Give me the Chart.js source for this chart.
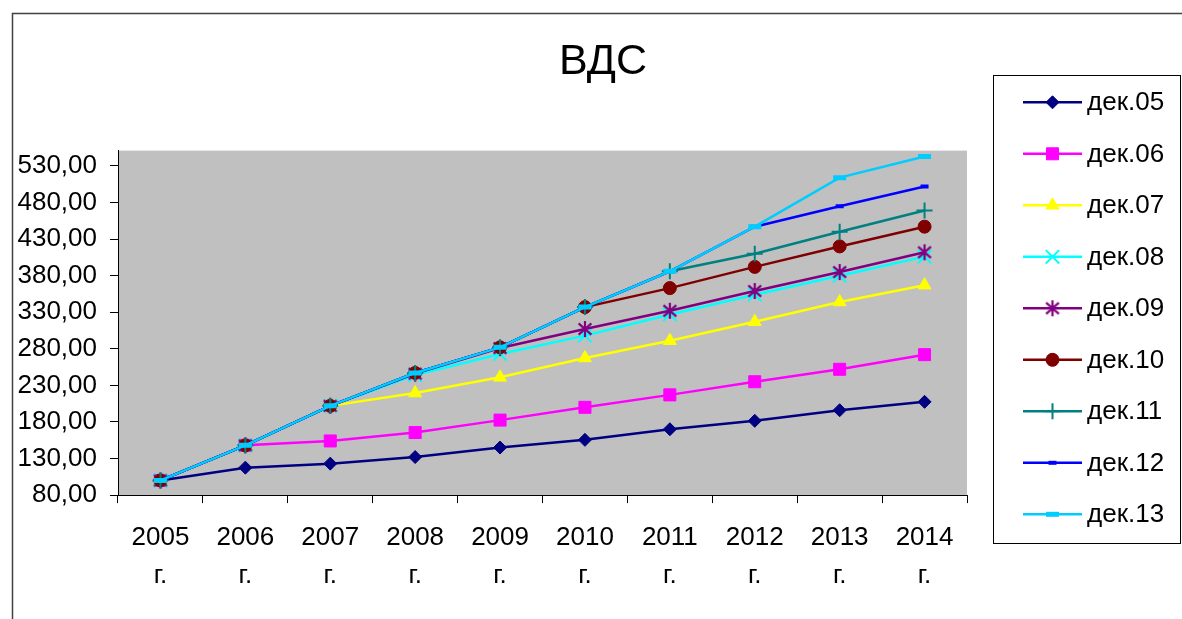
<!DOCTYPE html>
<html><head><meta charset="utf-8">
<script src="https://cdn.jsdelivr.net/npm/chart.js"></script>
<style>html,body{margin:0;padding:0;background:#fff;overflow:hidden}canvas{display:block}</style>
</head><body>
<canvas id="c" width="1182" height="619"></canvas>
<script>
// ---- data ----
const years = ['2005','2006','2007','2008','2009','2010','2011','2012','2013','2014'];
const yearSuffix = 'г.';
const seriesLabels = ['дек.05','дек.06','дек.07','дек.08','дек.09','дек.10','дек.11','дек.12','дек.13'];
const dek05 = [100, 117.5, 123, 132, 145, 155.5, 170, 181.5, 196, 207.5];
const dek06 = [100, 148, 154, 165.5, 182.5, 200, 217, 235, 252, 272];
const dek07 = [100, 148, 202, 219.5, 241, 267.5, 291, 317, 344, 367];
const dek08 = [100, 148, 202, 244, 273, 298, 327, 354, 380, 406];
const dek09 = [100, 148, 202, 246, 281, 307, 332, 359, 385, 412];
const dek10 = [100, 148, 202, 247, 282, 337, 363, 392, 420, 447];
const dek11 = [100, 148, 202, 247, 282, 337, 386, 410, 440, 469];
const dek12 = [100, 148, 202, 247, 282, 337, 386, 447, 475, 502];
const dek13 = [100, 148, 202, 247, 282, 337, 386, 447, 514, 543];
const yTickValues = [80, 130, 180, 230, 280, 330, 380, 430, 480, 530];
const yMin = 80, yMax = 551;
const titleText = 'ВДС';

// ---- styles ----
const FONT = '"Liberation Sans", Arial, sans-serif';
const seriesValues = [dek05, dek06, dek07, dek08, dek09, dek10, dek11, dek12, dek13];

function asteriskImage(color, size, lw) {
  const c = document.createElement('canvas');
  c.width = size; c.height = size;
  const g = c.getContext('2d');
  g.strokeStyle = color; g.lineWidth = lw; g.lineCap = 'butt';
  const m = size / 2, r = size / 2 - 1;
  g.beginPath();
  g.moveTo(m, m - r); g.lineTo(m, m + r);
  g.moveTo(m - r * 0.8, m - r * 0.7); g.lineTo(m + r * 0.8, m + r * 0.7);
  g.moveTo(m + r * 0.8, m - r * 0.7); g.lineTo(m - r * 0.8, m + r * 0.7);
  g.stroke();
  return c;
}

const styles = [
  {color:'#000080', pointStyle:'rectRot', radius:6.5, pbw:1},
  {color:'#FF00FF', pointStyle:'rect', radius:8.5, pbw:1},
  {color:'#FFFF00', pointStyle:'triangle', radius:7.5, pbw:1},
  {color:'#00FFFF', pointStyle:'crossRot', radius:9.5, pbw:2},
  {color:'#800080', pointStyle:asteriskImage('#800080', 18, 2.2), radius:9, pbw:2},
  {color:'#800000', pointStyle:'circle', radius:6.5, pbw:1},
  {color:'#008080', pointStyle:'cross', radius:8, pbw:2},
  {color:'#0000FF', pointStyle:'line', radius:4, pbw:4},
  {color:'#00CCFF', pointStyle:'line', radius:6.5, pbw:5}
];

const datasets = seriesLabels.map((lab, i) => ({
  label: lab,
  data: seriesValues[i],
  borderColor: styles[i].color,
  backgroundColor: styles[i].color,
  borderWidth: 2.5,
  pointStyle: styles[i].pointStyle,
  pointRadius: styles[i].radius,
  pointHoverRadius: styles[i].radius,
  pointBorderWidth: styles[i].pbw,
  pointBackgroundColor: styles[i].color,
  pointBorderColor: styles[i].color,
  tension: 0,
  order: seriesLabels.length - i
}));

const frameAndBg = {
  id: 'frameAndBg',
  beforeDraw(chart) {
    const ctx = chart.ctx, a = chart.chartArea;
    ctx.save();
    ctx.fillStyle = '#fff';
    ctx.fillRect(0, 0, chart.width, chart.height);
    ctx.fillStyle = '#C0C0C0';
    ctx.fillRect(a.left, a.top, a.right - a.left, a.bottom - a.top);
    ctx.strokeStyle = '#404040';
    ctx.lineWidth = 1.5;
    ctx.strokeRect(12.5, 13.5, 1300, 800);
    ctx.restore();
  }
};

function drawLegend(chart) {
  const ctx = chart.ctx;
  ctx.save();
  ctx.strokeStyle = '#000';
  ctx.lineWidth = 1;
  ctx.strokeRect(993.5, 75.5, 187, 468);
  chart.data.datasets.forEach((ds, i) => {
    const y = 102.3 + i * 51.5;
    ctx.strokeStyle = ds.borderColor;
    ctx.lineWidth = 2.5;
    ctx.beginPath();
    ctx.moveTo(1023, y); ctx.lineTo(1082, y);
    ctx.stroke();
    ctx.fillStyle = ds.pointBackgroundColor;
    ctx.strokeStyle = ds.pointBorderColor;
    ctx.lineWidth = ds.pointBorderWidth;
    if (Chart.helpers && Chart.helpers.drawPoint) {
      Chart.helpers.drawPoint(ctx, {pointStyle: ds.pointStyle, radius: ds.pointRadius, rotation: 0, borderWidth: ds.pointBorderWidth}, 1052.5, y);
    }
    ctx.fillStyle = '#000';
    ctx.font = '26px ' + FONT;
    ctx.textBaseline = 'middle';
    ctx.textAlign = 'left';
    ctx.fillText(ds.label, 1087, y + 1);
  });
  ctx.restore();
}

const boxLegend = {
  id: 'boxLegend',
  beforeInit(chart) {
    const box = {
      position: 'right', weight: 10, fullSize: false,
      options: { stack: undefined, stackWeight: 1 },
      left: 0, top: 0, right: 0, bottom: 0, width: 0, height: 0,
      isHorizontal() { return false; },
      update(maxWidth, maxHeight) { this.width = 239; this.height = maxHeight; return {}; },
      draw() {}
    };
    Chart.layouts.addBox(chart, box);
  },
  afterDraw(chart) { drawLegend(chart); }
};

new Chart(document.getElementById('c'), {
  type: 'line',
  data: { labels: years.map(y => [y, yearSuffix]), datasets },
  options: {
    responsive: false,
    animation: false,
    events: [],
    layout: { padding: { left: 0, right: -24, top: 0, bottom: 8 } },
    plugins: {
      legend: { display: false },
      tooltip: { enabled: false },
      title: {
        display: true, text: titleText, color: '#000',
        font: { family: FONT, size: 43, weight: 'normal', lineHeight: 1.2 },
        padding: { top: 36, bottom: 63 }
      }
    },
    scales: {
      x: {
        type: 'category', offset: true,
        grid: { offset: true, drawOnChartArea: false, drawTicks: true, tickLength: 8, color: '#000', lineWidth: 1 },
        border: { color: '#000', width: 1 },
        ticks: { color: '#000', padding: 16, maxRotation: 0, autoSkip: false,
          font: { family: FONT, size: 26, lineHeight: 1.46 } }
      },
      y: {
        min: yMin, max: yMax,
        afterBuildTicks(scale) { scale.ticks = yTickValues.map(v => ({ value: v })); },
        afterFit(scale) { scale.width = 118; },
        grid: { drawOnChartArea: false, drawTicks: true, tickLength: 8, color: '#000', lineWidth: 1 },
        border: { color: '#000', width: 1 },
        ticks: { color: '#000', padding: 13,
          font: { family: FONT, size: 26 },
          callback: (v) => Number(v).toFixed(2).replace('.', ',') }
      }
    }
  },
  plugins: [frameAndBg, boxLegend]
});
</script>
</body></html>
